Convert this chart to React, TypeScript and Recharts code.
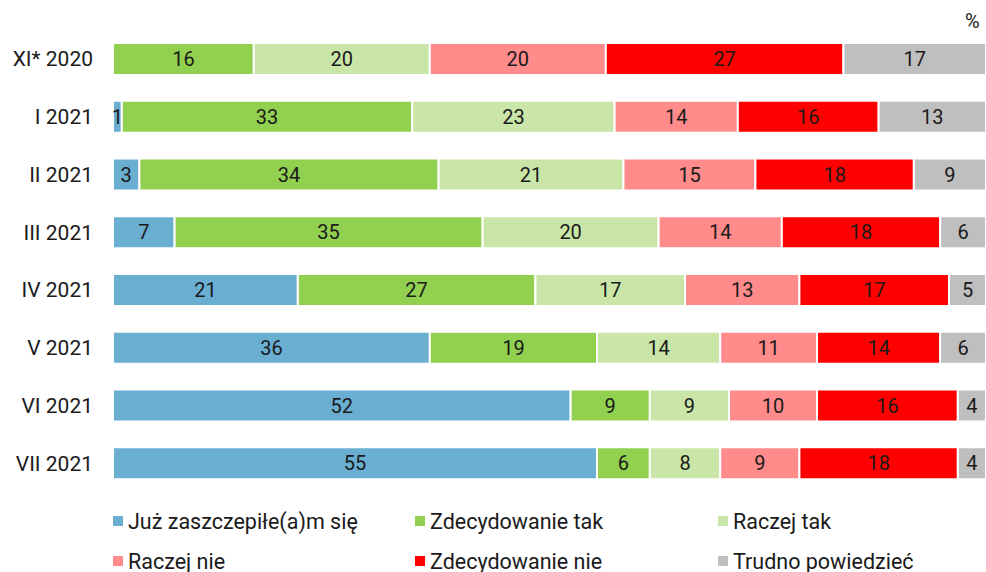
import * as React from "react";
import { Bar, BarChart, LabelList, XAxis, YAxis } from "recharts";

const periods = ["XI* 2020", "I 2021", "II 2021", "III 2021", "IV 2021", "V 2021", "VI 2021", "VII 2021"];

const vaccinated = [0, 1, 3, 7, 21, 36, 52, 55];
const definitelyYes = [16, 33, 34, 35, 27, 19, 9, 6];
const ratherYes = [20, 23, 21, 20, 17, 14, 9, 8];
const ratherNo = [20, 14, 15, 14, 13, 11, 10, 9];
const definitelyNo = [27, 16, 18, 18, 17, 14, 16, 18];
const hardToSay = [17, 13, 9, 6, 5, 6, 4, 4];

const series = [
  { key: "vaccinated", name: "Już zaszczepiłe(a)m się", color: "#6aaed2", values: vaccinated },
  { key: "definitelyYes", name: "Zdecydowanie tak", color: "#92d050", values: definitelyYes },
  { key: "ratherYes", name: "Raczej tak", color: "#c9e6a8", values: ratherYes },
  { key: "ratherNo", name: "Raczej nie", color: "#ff8b8b", values: ratherNo },
  { key: "definitelyNo", name: "Zdecydowanie nie", color: "#ff0000", values: definitelyNo },
  { key: "hardToSay", name: "Trudno powiedzieć", color: "#bfbfbf", values: hardToSay },
];

const data = periods.map((period, i) => {
  const row: Record<string, string | number> = { period };
  series.forEach((s) => (row[s.key] = s.values[i]));
  return row;
});

const FONT = "Roboto, 'Noto Sans', sans-serif";
const TEXT = "#1a1a1a";

export default function App() {
  return (
    <div style={{ position: "absolute", left: 0, top: 0, width: 986, height: 572, background: "#fff", fontFamily: FONT }}>
      <div style={{ position: "absolute", left: 965, top: 9, fontSize: 20, color: TEXT }}>%</div>
      <BarChart
        width={986}
        height={500}
        data={data}
        layout="vertical"
        margin={{ top: 30, right: 0, bottom: 8, left: 0 }}
        barSize={32}
      >
        {/* the original runs a little past the right edge and is cut off there */}
        <XAxis type="number" domain={[0, 99.2]} allowDataOverflow hide />
        <YAxis
          type="category"
          dataKey="period"
          width={113}
          axisLine={false}
          tickLine={false}
          tickSize={0}
          tickMargin={20}
          tick={{ fill: TEXT, fontSize: 21, fontFamily: FONT }}
        />
        {series.map((s) => (
          <Bar
            key={s.key}
            dataKey={s.key}
            name={s.name}
            stackId="a"
            fill={s.color}
            stroke="#ffffff"
            strokeWidth={2}
            isAnimationActive={false}
          >
            <LabelList
              dataKey={s.key}
              position="center"
              formatter={(v: any) => (v ? v : "")}
              style={{ fill: TEXT, fontSize: 20, fontFamily: FONT }}
            />
          </Bar>
        ))}
      </BarChart>
      <div style={{ position: "absolute", left: 113, top: 509, width: 873, display: "grid", gridTemplateColumns: "302px 303px 268px", rowGap: 16 }}>
        {series.map((s) => (
          <div key={s.key} style={{ display: "flex", alignItems: "center", fontSize: 21.5, color: TEXT, height: 24, whiteSpace: "nowrap" }}>
            <span style={{ width: 10, height: 10, background: s.color, marginRight: 5, display: "inline-block", flexShrink: 0 }} />
            {s.name}
          </div>
        ))}
      </div>
    </div>
  );
}
